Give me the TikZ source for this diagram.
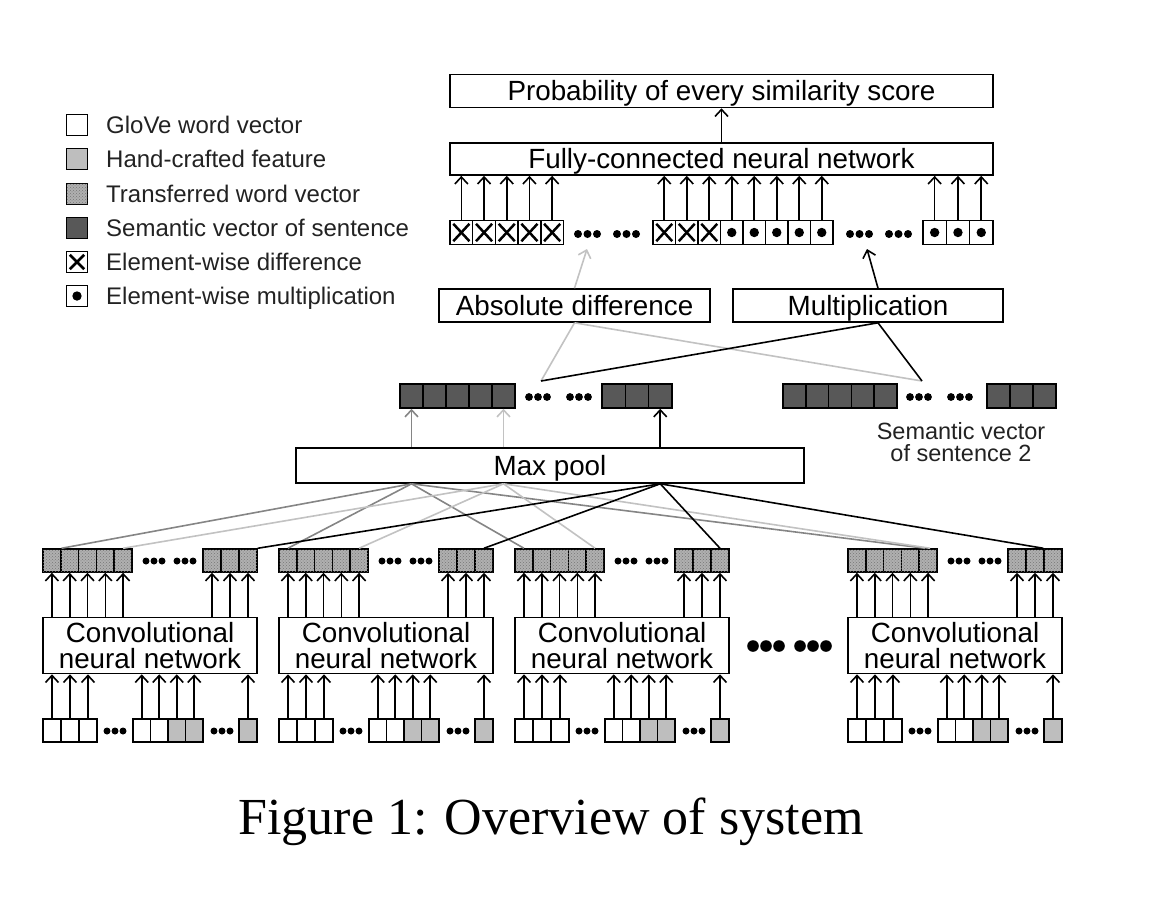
\documentclass[tikz,border=0pt]{standalone}
\usepackage{fontspec}
\setmainfont{Liberation Sans}
\newfontfamily\capfont{Liberation Serif}
\usetikzlibrary{arrows.meta,patterns,calc}
\definecolor{lg}{HTML}{C2C2C2}
\definecolor{mg}{HTML}{858585}
\definecolor{sem}{HTML}{585858}
\definecolor{hand}{HTML}{BEBEBE}
\definecolor{trans}{HTML}{B0B0B0}
\definecolor{transdot}{HTML}{767676}
\definecolor{legtext}{HTML}{222222}
\tikzset{
  box/.style={draw, line width=1.6pt, inner sep=0pt, align=center, font=\fontsize{27.8}{26}\selectfont},
  oneline/.style={text height=21pt, text depth=1.6pt},
  xmark/.style={path picture={
    \draw[line width=2.5pt] ([shift={(3.3pt,3.3pt)}]path picture bounding box.south west) -- ([shift={(-3.3pt,-3.3pt)}]path picture bounding box.north east);
    \draw[line width=2.5pt] ([shift={(3.3pt,-3.3pt)}]path picture bounding box.north west) -- ([shift={(-3.3pt,3.3pt)}]path picture bounding box.south east);}},
  dmark/.style={path picture={\fill (path picture bounding box.center) circle (4.7pt);}},
  tpat/.style={fill=trans, postaction={pattern=crosshatch dots, pattern color=transdot}},
  cell/.style={draw, line width=1.5pt, inner sep=0pt, minimum height=23pt},
  wcell/.style={cell, fill=white},
  hcell/.style={cell, fill=hand},
  tcell/.style={cell, tpat},
  scell/.style={cell, fill=sem, minimum height=24pt},
  xcell/.style={cell, xmark, minimum height=24pt},
  dcell/.style={cell, dmark, minimum height=24pt},
  lbox/.style={draw, line width=1.5pt, inner sep=0pt, minimum width=21pt, minimum height=21pt},
  ltext/.style={anchor=base west, text=legtext, inner sep=0pt, font=\fontsize{24}{24}\selectfont},
  arr/.style={line width=1.6pt, -{Straight Barb[length=7pt,width=13pt]}},
  fan/.style={line width=1.6pt},
}
\newcommand\mysixdots[5]{% first x, y, spacing, gap, radius(pt)
  \foreach \j in {0,1,2}{\fill (#1+\j*#3,#2) circle (#5pt); \fill (#1+2*#3+#4+\j*#3,#2) circle (#5pt);}}
\newcommand\mythreedots[4]{% first x, y, spacing, radius(pt)
  \foreach \j in {0,1,2}{\fill (#1+\j*#3,#2) circle (#4pt);}}

\begin{document}
\begin{tikzpicture}[x=1pt,y=-1pt]
\useasboundingbox (0,0) rectangle (1176,906);

% ---------------- legend
\node[lbox, fill=white] (l1) at (77,125) {};
\node[lbox, fill=hand]  (l2) at (77,159) {};
\node[lbox, tpat]       (l3) at (77,194) {};
\node[lbox, fill=sem]   (l4) at (77,228) {};
\node[lbox, xmark]      (l5) at (77,262) {};
\node[lbox, dmark]      (l6) at (77,296) {};
\node[ltext] (lt1) at (106,133.5) {GloVe word vector};
\node[ltext] (lt2) at (106,167.5) {Hand-crafted feature};
\node[ltext] (lt3) at (106,202.5) {Transferred word vector};
\node[ltext] (lt4) at (106,236.5) {Semantic vector of sentence};
\node[ltext] (lt5) at (106,270.5) {Element-wise difference};
\node[ltext] (lt6) at (106,304.5) {Element-wise multiplication};

% ---------------- top boxes
\node[box, oneline, minimum width=543pt, minimum height=33pt] (prob) at (721.5,91) {Probability of every similarity score};
\node[box, oneline, minimum width=543pt, minimum height=32pt] (fc) at (721.5,159) {Fully-connected neural network};
\draw[arr] (fc.north) -- (prob.south);

% ---------------- element-wise row
\foreach \i in {1,...,5}{\node[xcell, minimum width=22.7pt] (fa\i) at ({450+(\i-0.5)*22.7},232.5) {};}
\foreach \i in {1,...,3}{\node[xcell, minimum width=22.5pt] (fb\i) at ({653+(\i-0.5)*22.5},232.5) {};}
\foreach \i in {4,...,8}{\node[dcell, minimum width=22.5pt] (fb\i) at ({653+(\i-0.5)*22.5},232.5) {};}
\foreach \i in {1,...,3}{\node[dcell, minimum width=23.3pt] (fc\i) at ({923+(\i-0.5)*23.3},232.5) {};}
\foreach \i in {1,...,5}{\draw[arr] (fa\i.north) -- (fa\i.north |- fc.south);}
\foreach \i in {1,...,8}{\draw[arr] (fb\i.north) -- (fb\i.north |- fc.south);}
\foreach \i in {1,...,3}{\draw[arr] (fc\i.north) -- (fc\i.north |- fc.south);}
\mysixdots{578}{234}{9.5}{20}{4}
\mysixdots{850}{234}{9.5}{20}{4}

% ---------------- operations
\node[box, oneline, minimum width=271pt, minimum height=33pt] (ad) at (574.5,305.5) {Absolute difference};
\node[box, oneline, minimum width=270pt, minimum height=33pt] (mul) at (868,305.5) {Multiplication};
\coordinate (d1) at (587,249);
\coordinate (d2) at (867,249);
\coordinate (mulb) at ($(mul.south)+(10,0)$);
\coordinate (mult) at ($(mul.north)+(10,0)$);
\draw[arr, lg] (ad.north) -- (d1);
\draw[arr] (mult) -- (d2);

% ---------------- semantic vectors
\foreach \i in {1,...,5}{\node[scell, minimum width=23pt] (sa\i) at ({400+(\i-0.5)*23},396) {};}
\foreach \i in {1,...,3}{\node[scell, minimum width=23.3pt] (sb\i) at ({602+(\i-0.5)*23.3},396) {};}
\foreach \i in {1,...,5}{\node[scell, minimum width=22.8pt] (ua\i) at ({783+(\i-0.5)*22.8},396) {};}
\foreach \i in {1,...,3}{\node[scell, minimum width=23pt] (ub\i) at ({987+(\i-0.5)*23},396) {};}
\mysixdots{529}{397}{9}{23}{3.9}
\mysixdots{910}{397}{9}{23}{3.9}
\coordinate (m1) at (541,381);
\coordinate (m2) at (922,381);
\draw[fan, lg] (ad.south) -- (m1);
\draw[fan, lg] (ad.south) -- (m2);
\draw[fan] (mulb) -- (m1);
\draw[fan] (mulb) -- (m2);
\node[align=center, font=\fontsize{23.5}{22}\selectfont, text=legtext, inner sep=0pt] (s2lab) at (961,442.5) {Semantic vector\\of sentence 2};

% ---------------- max pool
\node[box, oneline, minimum width=508pt, minimum height=35pt] (mp) at (550,465.5) {Max pool};
\draw[arr, mg] (mp.north -| sa1) -- (sa1.south);
\draw[arr, lg] (mp.north -| sa5) -- (sa5.south);
\draw[arr] (mp.north -| sb3) -- (sb3.south);
\coordinate (srcg) at (mp.south -| sa1);
\coordinate (srcl) at (mp.south -| sa5);
\coordinate (srcb) at (mp.south -| sb3);

% ---------------- CNN blocks
\foreach \k/\dx in {1/0,2/236,3/472,4/805}{
  \foreach \i in {1,...,5}{\node[tcell, minimum width=17.8pt] (ta\k\i) at ({\dx+43+(\i-0.5)*17.8},560.5) {};}
  \foreach \i in {1,...,3}{\node[tcell, minimum width=18pt] (tb\k\i) at ({\dx+203+(\i-0.5)*18},560.5) {};}
  \mysixdots{\dx+146}{561}{8}{15}{3.5}
  \node[box, minimum width=214pt, minimum height=56pt] (cnn\k) at (\dx+150,645.5) {Convolutional\\neural network};
  \foreach \i in {1,...,5}{\draw[arr] (cnn\k.north -| ta\k\i) -- (ta\k\i.south);}
  \foreach \i in {1,...,3}{\draw[arr] (cnn\k.north -| tb\k\i) -- (tb\k\i.south);}
  % inputs
  \foreach \i in {1,...,3}{\node[wcell, minimum width=18pt] (ia\k\i) at ({\dx+43+(\i-0.5)*18},730.5) {};}
  \mythreedots{\dx+107}{731}{8}{3.5}
  \node[wcell, minimum width=17.5pt] (ib\k1) at (\dx+141.75,730.5) {};
  \node[wcell, minimum width=17.5pt] (ib\k2) at (\dx+159.25,730.5) {};
  \node[hcell, minimum width=17.5pt] (ib\k3) at (\dx+176.75,730.5) {};
  \node[hcell, minimum width=17.5pt] (ib\k4) at (\dx+194.25,730.5) {};
  \mythreedots{\dx+214}{731}{8}{3.5}
  \node[hcell, minimum width=18pt] (ic\k) at (\dx+248,730.5) {};
  \foreach \i in {1,...,3}{\draw[arr] (ia\k\i.north) -- (ia\k\i.north |- cnn\k.south);}
  \foreach \i in {1,...,4}{\draw[arr] (ib\k\i.north) -- (ib\k\i.north |- cnn\k.south);}
  \draw[arr] (ic\k.north) -- (ic\k.north |- cnn\k.south);
}
\mysixdots{753}{646}{13}{21}{5.8}

% ---------------- fan lines from max pool
\draw[fan, mg] (srcg) -- (ta11.north east);
\draw[fan, mg] (srcg) -- (ta21.north);
\draw[fan, mg] (srcg) -- (ta31.north);
\draw[fan, mg] (srcg) -- ($(ta45.north)+(-3,0)$);
\draw[fan, lg] (srcl) -- (ta15.north);
\draw[fan, lg] (srcl) -- (ta25.north);
\draw[fan, lg] (srcl) -- (ta35.north);
\draw[fan, lg] (srcl) -- ($(ta45.north)+(2,0)$);
\draw[fan] (srcb) -- (tb13.north east);
\draw[fan] (srcb) -- (tb23.north);
\draw[fan] (srcb) -- (tb33.north);
\draw[fan] (srcb) -- (tb43.north west);

% ---------------- caption
\node[font=\capfont\fontsize{52}{52}\selectfont, inner sep=0pt] (cap) at (551,822) {Figure 1: Overview of system};
\end{tikzpicture}
\end{document}
